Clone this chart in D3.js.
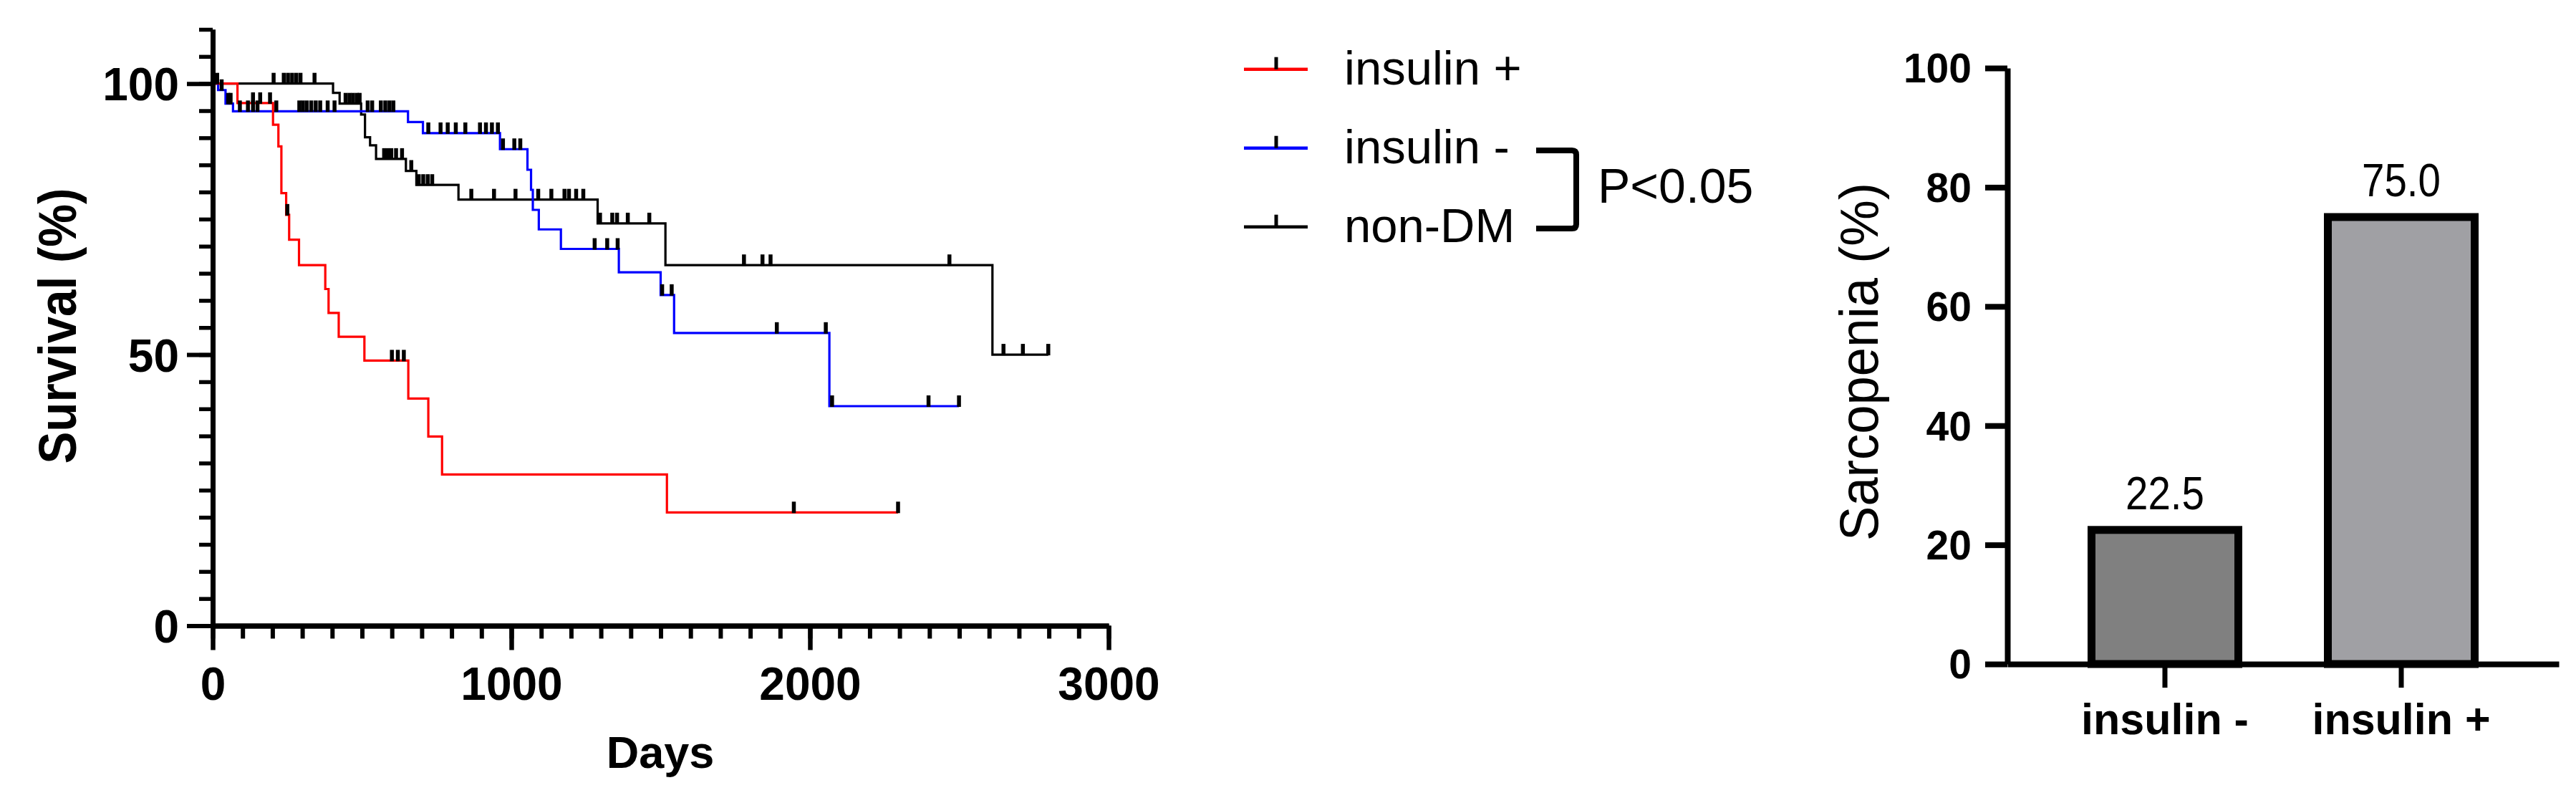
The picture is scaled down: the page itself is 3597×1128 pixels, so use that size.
<!DOCTYPE html>
<html><head><meta charset="utf-8">
<script src="https://cdn.jsdelivr.net/npm/d3@7"></script>
<style>html,body{margin:0;padding:0;background:#fff;} svg{display:block;}</style>
</head><body>
<svg id="chart" width="3597" height="1128"></svg>
<script>
// ---------------- Kaplan–Meier data ----------------
const kmNames  = ["insulin +", "insulin -", "non-DM"];
const kmColors = ["#ff0000", "#0000ff", "#000000"];

// insulin + : event days and survival (%) after each step
const insPlusDays = [0, 83, 202, 220, 230, 246, 256, 289, 377, 388, 422, 508, 655, 722, 768, 1521];
const insPlusSurv = [100, 96.4, 92.4, 88.4, 79.8, 75.8, 71.2, 66.5, 62.1, 57.7, 53.3, 48.9, 41.9, 34.9, 27.9, 20.9];
const insPlusEnd = 2295;
const insPlusCensor = [135, 159, 192, 250, 600, 620, 640, 1946, 2295];

// insulin -
const insMinusDays = [0, 18, 43, 68, 654, 704, 962, 1054, 1066, 1072, 1092, 1166, 1360, 1500, 1545, 2065];
const insMinusSurv = [100, 98.8, 96.3, 94.9, 92.9, 90.85, 87.9, 84.1, 80.4, 76.7, 73.1, 69.5, 65.2, 61.0, 54.0, 40.5];
const insMinusEnd = 2499;
const insMinusCensor = [30, 52, 60, 91, 118, 135, 150, 213, 290, 302, 315, 330, 345, 360, 385, 408,
  519, 534, 563, 578, 592, 605, 722, 763, 787, 814, 846, 895, 915, 935, 955, 972, 1010, 1030,
  1279, 1321, 1356, 1505, 1537, 1889, 2053, 2074, 2397, 2499];

// non-DM
const nonDMDays = [0, 403, 425, 497, 510, 527, 547, 647, 682, 823, 1289, 1516, 2611];
const nonDMSurv = [100, 98.3, 96.3, 94.3, 90.1, 88.6, 86.1, 83.9, 81.3, 78.6, 74.2, 66.5, 50.0];
const nonDMEnd = 2798;
const nonDMCensor = [15, 204, 238, 252, 266, 280, 294, 341, 445, 458, 470, 483, 492, 574, 586, 598, 614, 634,
  665, 690, 705, 720, 735, 866, 942, 1014, 1090, 1134, 1178, 1193, 1217, 1241, 1297, 1338, 1354, 1390, 1462,
  1779, 1841, 1868, 2467, 2648, 2713, 2798];

const kmXTicks = [0, 1000, 2000, 3000];
const kmYTicks = [0, 50, 100];
const pText = "P<0.05";

// ---------------- Bar chart data ----------------
const barCats   = ["insulin -", "insulin +"];
const barValues = [22.5, 75.0];
const barLabels = ["22.5", "75.0"];
const barFills  = ["#808080", "#a0a0a4"];
const barYTicks = [0, 20, 40, 60, 80, 100];

// ---------------- drawing ----------------
const FONT = "'Liberation Sans', Arial, Helvetica, sans-serif";
const svg = d3.select("#chart");
svg.append("rect").attr("width", 3597).attr("height", 1128).attr("fill", "#fff");

// KM scales
const x = d3.scaleLinear().domain([0, 3000]).range([297, 1548]);
const y = d3.scaleLinear().domain([0, 110]).range([873.5, 41]);

const km = svg.append("g");

const series = [
  {days: insPlusDays, surv: insPlusSurv, end: insPlusEnd, cens: insPlusCensor},
  {days: insMinusDays, surv: insMinusSurv, end: insMinusEnd, cens: insMinusCensor},
  {days: nonDMDays, surv: nonDMSurv, end: nonDMEnd, cens: nonDMCensor}
];

const line = d3.line().x(d => x(d[0])).y(d => y(d[1])).curve(d3.curveStepAfter);
// draw black first, then blue, then red (red on top like reference)
[2, 1, 0].forEach(i => {
  const s = series[i];
  const pts = s.days.map((d, k) => [d, s.surv[k]]);
  pts.push([s.end, s.surv[s.surv.length - 1]]);
  km.append("path").attr("d", line(pts)).attr("fill", "none")
    .attr("stroke", kmColors[i]).attr("stroke-width", 3.2);
});
// censor marks (black ticks above the line)
[2, 1, 0].forEach(i => {
  const s = series[i];
  s.cens.forEach(t => {
    const k = Math.max(0, d3.bisectRight(s.days, t) - 1);
    const v = s.surv[k];
    km.append("line").attr("x1", x(t)).attr("x2", x(t))
      .attr("y1", y(v) + 1).attr("y2", y(v) - 15)
      .attr("stroke", "#000").attr("stroke-width", 5.5);
  });
});

// KM axes
function styleAxis(g, sw, tsw) {
  g.select(".domain").attr("stroke", "#000").attr("stroke-width", sw);
  g.selectAll(".tick line").attr("stroke", "#000").attr("stroke-width", tsw);
  g.selectAll("text").attr("fill", "#000").attr("font-family", FONT)
    .attr("font-weight", "bold");
}
const yMinor = km.append("g").attr("transform", "translate(297,0)")
  .call(d3.axisLeft(y).tickValues(d3.range(0, 111, 5)).tickSize(19).tickSizeOuter(0).tickFormat(""));
styleAxis(yMinor, 7, 5.5);
const yMajor = km.append("g").attr("transform", "translate(297,0)")
  .call(d3.axisLeft(y).tickValues(kmYTicks).tickSize(36).tickSizeOuter(0).tickPadding(11));
styleAxis(yMajor, 7, 6);
yMajor.selectAll("text").attr("font-size", 64).attr("dy", "0.36em");

const xMinor = km.append("g").attr("transform", "translate(0,873.5)")
  .call(d3.axisBottom(x).tickValues(d3.range(0, 3001, 100)).tickSize(18).tickSizeOuter(0).tickFormat(""));
styleAxis(xMinor, 7, 6);
const xMajor = km.append("g").attr("transform", "translate(0,873.5)")
  .call(d3.axisBottom(x).tickValues(kmXTicks).tickSize(34).tickSizeOuter(0).tickPadding(24).tickFormat(d3.format("d")));
styleAxis(xMajor, 7, 6.5);
xMajor.selectAll("text").attr("font-size", 64);

// KM axis titles
km.append("text").attr("transform", "translate(106,455) rotate(-90)")
  .attr("text-anchor", "middle").attr("font-family", FONT).attr("font-weight", "bold")
  .attr("font-size", 74).attr("textLength", 385).attr("lengthAdjust", "spacingAndGlyphs")
  .text("Survival (%)");
km.append("text").attr("x", 922).attr("y", 1072).attr("text-anchor", "middle")
  .attr("font-family", FONT).attr("font-weight", "bold").attr("font-size", 63).text("Days");

// Legend
const leg = svg.append("g");
kmNames.forEach((name, i) => {
  const ly = 96.7 + i * 110;
  leg.append("line").attr("x1", 1737).attr("x2", 1826).attr("y1", ly).attr("y2", ly)
    .attr("stroke", kmColors[i]).attr("stroke-width", 4.5);
  leg.append("line").attr("x1", 1782).attr("x2", 1782).attr("y1", ly).attr("y2", ly - 17)
    .attr("stroke", "#000").attr("stroke-width", 5);
  leg.append("text").attr("x", 1877).attr("y", ly + 21).attr("font-family", FONT)
    .attr("font-size", 67).attr("fill", "#000").text(name);
});
// bracket with p-value
leg.append("path").attr("d", "M2145,210 H2195 Q2201,210 2201,216 V313 Q2201,319 2195,319 H2145")
  .attr("fill", "none").attr("stroke", "#000").attr("stroke-width", 8);
leg.append("text").attr("x", 2231).attr("y", 283).attr("font-family", FONT)
  .attr("font-size", 68).attr("fill", "#000").text(pText);

// ---------------- Bar chart ----------------
const bar = svg.append("g");
const xb = d3.scaleBand().domain(barCats).range([2803, 3573]).paddingInner(0.3788).paddingOuter(0.356);
const yb = d3.scaleLinear().domain([0, 100]).range([927, 95]);

bar.selectAll("rect.bar").data(barCats).join("rect").attr("class", "bar")
  .attr("x", d => xb(d)).attr("width", xb.bandwidth())
  .attr("y", (d, i) => yb(barValues[i])).attr("height", (d, i) => yb(0) - yb(barValues[i]))
  .attr("fill", (d, i) => barFills[i]).attr("stroke", "#000").attr("stroke-width", 11);

bar.selectAll("text.val").data(barCats).join("text").attr("class", "val")
  .attr("x", d => xb(d) + xb.bandwidth() / 2).attr("y", (d, i) => yb(barValues[i]) - 29)
  .attr("text-anchor", "middle").attr("font-family", FONT).attr("font-size", 64)
  .attr("textLength", 110).attr("lengthAdjust", "spacingAndGlyphs")
  .text((d, i) => barLabels[i]);

const ybAxis = bar.append("g").attr("transform", "translate(2803,0)")
  .call(d3.axisLeft(yb).tickValues(barYTicks).tickSize(31).tickSizeOuter(0).tickPadding(19));
styleAxis(ybAxis, 8, 8);
ybAxis.selectAll("text").attr("font-size", 57).attr("dy", "0.35em");

const xbAxis = bar.append("g").attr("transform", "translate(0,927)")
  .call(d3.axisBottom(xb).tickSize(33).tickSizeOuter(0).tickPadding(22));
styleAxis(xbAxis, 8, 7);
xbAxis.selectAll("text").attr("font-size", 61);

bar.append("text").attr("transform", "translate(2622,505) rotate(-90)")
  .attr("text-anchor", "middle").attr("font-family", FONT).attr("font-size", 76)
  .attr("textLength", 500).attr("lengthAdjust", "spacingAndGlyphs")
  .text("Sarcopenia (%)");
</script>
</body></html>
